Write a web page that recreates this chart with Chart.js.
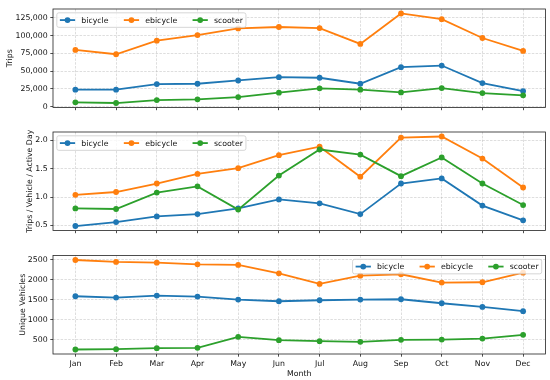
<!DOCTYPE html>
<html><head><meta charset="utf-8">
<script src="https://cdn.jsdelivr.net/npm/chart.js@4.4.1/dist/chart.umd.min.js"></script>
<style>
html,body{margin:0;padding:0;background:#fff;}
#wrap{position:relative;width:550px;height:380px;overflow:hidden;background:#fff;}
canvas{position:absolute;left:0;}
</style></head><body>
<div id="wrap">
<canvas id="c1" style="top:0px" width="550" height="124"></canvas>
<canvas id="c2" style="top:124px" width="550" height="124"></canvas>
<canvas id="c3" style="top:248px" width="550" height="132"></canvas>
</div>
<script>
// ---- data ----
const months = ['Jan','Feb','Mar','Apr','May','Jun','Jul','Aug','Sep','Oct','Nov','Dec'];
const seriesNames = ['bicycle','ebicycle','scooter'];
const tripsBicycle  = [23800,23800,31700,32200,36800,41500,40600,32200,55500,57800,33100,21900];
const tripsEbicycle = [79800,73700,92800,100700,110000,112000,110500,88200,131000,123000,96500,78400];
const tripsScooter  = [6100,5100,9300,10300,13500,19600,25700,23800,20000,26100,19100,15900];
const rateBicycle  = [0.49,0.56,0.66,0.70,0.80,0.96,0.89,0.70,1.24,1.33,0.85,0.59];
const rateEbicycle = [1.04,1.09,1.24,1.41,1.51,1.74,1.89,1.36,2.05,2.07,1.68,1.17];
const rateScooter  = [0.80,0.79,1.08,1.19,0.78,1.38,1.84,1.75,1.37,1.70,1.24,0.86];
const vehBicycle  = [1592,1558,1608,1583,1508,1467,1492,1508,1517,1417,1325,1217];
const vehEbicycle = [2500,2450,2433,2392,2375,2167,1900,2108,2142,1933,1942,2183];
const vehScooter  = [258,267,292,300,575,492,467,450,500,508,533,625];
const tripsTicks = [0,25000,50000,75000,100000,125000];
const rateTicks  = [0.5,1.0,1.5,2.0];
const vehTicks   = [500,1000,1500,2000,2500];

// ---- styling ----
const colors = ['#1f77b4','#ff7f0e','#2ca02c'];
const FS = 7.8;
const TXT = '#111';
const LW = 1.8, PR = 2.9;
Chart.defaults.font.family = '"DejaVu Sans", sans-serif';
Chart.defaults.font.size = FS;
Chart.defaults.color = TXT;

function limits(arrs){
  const all = [].concat(...arrs);
  const lo = Math.min(...all), hi = Math.max(...all);
  const m = (hi - lo) * 0.05;
  return [lo - m, hi + m];
}

const frame = {
  id:'frame',
  afterDatasetsDraw(chart){
    const ctx = chart.ctx, ca = chart.chartArea;
    ctx.save();
    ctx.strokeStyle = '#222';
    ctx.lineWidth = 0.8;
    ctx.strokeRect(ca.left, ca.top, ca.right - ca.left, ca.bottom - ca.top);
    ctx.restore();
  }
};

const mLegend = {
  id:'mlegend',
  afterDraw(chart, args, opts){
    const ctx = chart.ctx, ca = chart.chartArea;
    const fs = 7.64;
    ctx.save();
    ctx.font = FS + 'px "DejaVu Sans", sans-serif';
    const bp = 0.4*fs, hl = 2*fs, htp = 0.8*fs, cs = 2*fs, bap = 0.5*fs;
    const ds = chart.data.datasets;
    const widths = ds.map(d => ctx.measureText(d.label).width);
    const w = 2*bp + ds.length*(hl+htp) + widths.reduce((a,b)=>a+b,0) + (ds.length-1)*cs;
    const h = 2*bp + fs*1.1;
    const x0 = opts.corner === 'ur' ? ca.right - bap - w : ca.left + bap;
    const y0 = ca.top + bap;
    ctx.beginPath();
    ctx.roundRect(x0, y0, w, h, 2);
    ctx.fillStyle = 'rgba(255,255,255,0.8)';
    ctx.fill();
    ctx.strokeStyle = '#cccccc';
    ctx.lineWidth = 0.8;
    ctx.stroke();
    let x = x0 + bp;
    const cy = y0 + h/2;
    ds.forEach((d,i) => {
      ctx.strokeStyle = d.borderColor;
      ctx.lineWidth = LW;
      ctx.beginPath(); ctx.moveTo(x, cy); ctx.lineTo(x+hl, cy); ctx.stroke();
      ctx.fillStyle = d.borderColor;
      ctx.beginPath(); ctx.arc(x+hl/2, cy, PR, 0, Math.PI*2); ctx.fill();
      ctx.fillStyle = TXT;
      ctx.textBaseline = 'middle';
      ctx.textAlign = 'left';
      ctx.fillText(d.label, x+hl+htp, cy+0.5);
      x += hl + htp + widths[i] + cs;
    });
    ctx.restore();
  }
};

function makeChart(id, cfg){
  const [ymin, ymax] = limits(cfg.series);
  const datasets = cfg.series.map((arr, k) => ({
    label: seriesNames[k],
    data: arr.map((v,i) => ({x:i, y:v})),
    borderColor: colors[k],
    backgroundColor: colors[k],
    pointBackgroundColor: colors[k],
    borderWidth: LW,
    pointRadius: PR,
    pointBorderWidth: 0,
    tension: 0,
    order: 3 - k
  }));
  const gridCommon = {
    color:'rgba(176,176,176,0.6)', lineWidth:0.7,
    tickLength:2.7, tickColor:'#222', tickWidth:0.8, tickBorderDash:[]
  };
  return new Chart(document.getElementById(id), {
    type:'line',
    data:{datasets},
    plugins:[frame, mLegend],
    options:{
      responsive:false, animation:false, devicePixelRatio:1, events:[],
      layout:{padding:{top:cfg.padTop, right:4.5, left:0, bottom:0}},
      plugins:{legend:{display:false}, tooltip:{enabled:false}, mlegend:{corner:cfg.corner}},
      scales:{
        x:{
          type:'linear', bounds:'data', min:-0.55, max:11.55,
          afterBuildTicks: s => { s.ticks = months.map((m,i) => ({value:i})); },
          ticks:{display:cfg.showX, callback:(v) => months[v] ?? '', padding:2.2, maxRotation:0, autoSkip:false, color:TXT},
          grid:gridCommon,
          border:{display:false, dash:[2.5,1.3]},
          title:{display:cfg.showX, text:'Month', color:TXT, padding:{top:0, bottom:1.8}},
          afterFit: s => { s.height = cfg.xH; }
        },
        y:{
          type:'linear', bounds:'data', min:ymin, max:ymax,
          afterBuildTicks: s => { s.ticks = cfg.ticks.map(v => ({value:v})); },
          ticks:{callback:cfg.fmt, padding:2.6, color:TXT},
          grid:gridCommon,
          border:{display:false, dash:[2.5,1.3]},
          title:{display:true, text:cfg.title, color:TXT, padding:{top:cfg.titlePad, bottom:0}},
          afterFit: s => { s.width = 53; }
        }
      }
    }
  });
}

makeChart('c1', {
  series:[tripsBicycle, tripsEbicycle, tripsScooter], ticks:tripsTicks,
  fmt: v => v.toLocaleString('en-US'), title:'Trips', titlePad:5.6,
  padTop:9, xH:16.5, showX:false, corner:'ul'
});
makeChart('c2', {
  series:[rateBicycle, rateEbicycle, rateScooter], ticks:rateTicks,
  fmt: v => v.toFixed(1), title:'Trips / Vehicle / Active Day', titlePad:25.2,
  padTop:8, xH:17.5, showX:false, corner:'ul'
});
makeChart('c3', {
  series:[vehBicycle, vehEbicycle, vehScooter], ticks:vehTicks,
  fmt: v => String(v), title:'Unique Vehicles', titlePad:18.2,
  padTop:7.5, xH:26, showX:true, corner:'ur'
});
</script>
</body></html>
